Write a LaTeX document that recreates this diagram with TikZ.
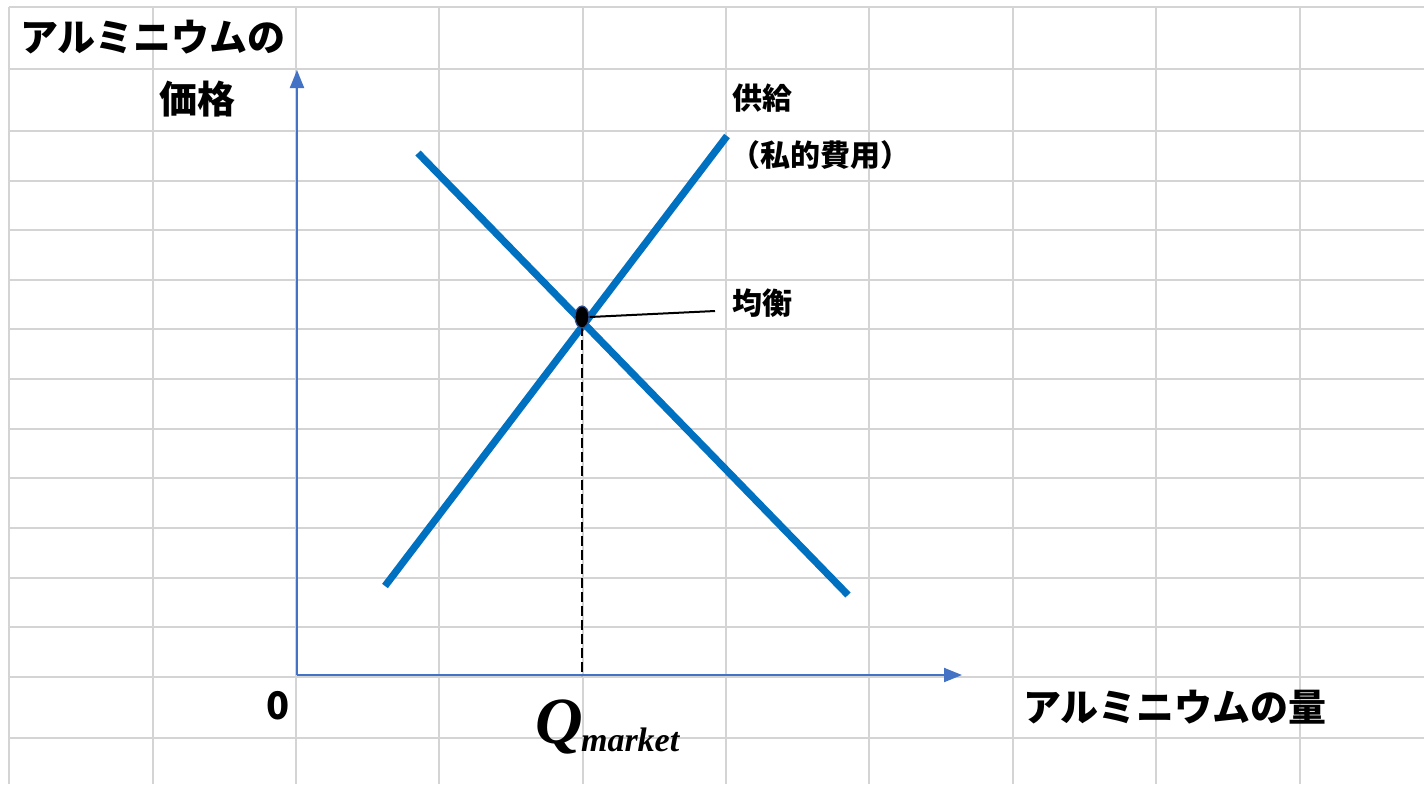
\documentclass[tikz,border=0pt]{standalone}
\usepackage{fontspec}
\usetikzlibrary{arrows.meta,shapes.geometric}
\newfontfamily\jpfont{Noto Sans CJK JP}
\newfontfamily\tnrfont{Liberation Serif}
\definecolor{gridgray}{HTML}{D4D4D4}
\definecolor{axisblue}{HTML}{4472C4}
\definecolor{curveblue}{HTML}{0070C0}
\definecolor{dotedge}{HTML}{2F528F}
\tikzset{
  gridline/.style={draw=gridgray, line width=1.2pt},
  axisline/.style={draw=axisblue, line width=1pt, -{Triangle[width=7pt,length=9pt]}},
  curveline/.style={draw=curveblue, line width=3.6pt},
  bigjp/.style={font=\jpfont\bfseries\fontsize{19pt}{22pt}\selectfont, inner sep=0pt},
  smalljp/.style={font=\jpfont\bfseries\fontsize{15pt}{18pt}\selectfont, inner sep=0pt},
  leader/.style={draw=black, line width=1pt},
  dropline/.style={draw=black, line width=0.8pt, dash pattern=on 5pt off 2pt},
}
\begin{document}
\begin{tikzpicture}[x=0.5pt,y=-0.5pt]
\fill[white] (0,0) rectangle (1424,784);
\useasboundingbox (0,0) rectangle (1424,784);
% grid
\foreach \gx in {9,153,296,439,583,726,869,1013,1156,1300}
  \draw[gridline] (\gx,7) -- (\gx,784);
\foreach \gy in {7,69,131,181,230,280,329,379,429,478,528,578,627,677,738}
  \draw[gridline] (9,\gy) -- (1424,\gy);
% axes
\coordinate (O) at (297,675);
\coordinate (ytop) at (297,70);
\coordinate (xend) at (962,675);
\draw[axisline] (O) -- (ytop);
\draw[axisline] (O) -- (xend);
% curves
\coordinate (s1) at (385,586);
\coordinate (s2) at (727,136);
\coordinate (d1) at (418,153);
\coordinate (d2) at (848,595);
\draw[curveline] (s1) -- (s2);
\draw[curveline] (d1) -- (d2);
% equilibrium
\coordinate (qbase) at (582,676);
\draw[dropline] (582,326) -- (qbase);
\node[ellipse, draw=dotedge, fill=black, line width=0.6pt, minimum width=7pt, minimum height=11pt, inner sep=0pt] (eq) at (582,317) {};
\node[smalljp] (eqlabel) at (762,303) {均衡};
\coordinate (leadend) at (715,311);
\draw[leader] (eq.east) -- (leadend);
% labels
\node[bigjp] (ylab1) at (153,37) {アルミニウムの};
\node[bigjp] (ylab2) at (197,99) {価格};
\node[smalljp] (slab1) at (762,98) {供給};
\node[smalljp] (slab2) at (820,155) {（私的費用）};
\node[font=\jpfont\fontseries{m}\fontsize{19pt}{22pt}\selectfont, inner sep=0pt] (zero) at (278,706) {\textbf{0}};
\node[bigjp] (xlab) at (1175,707) {アルミニウムの量};
\node[inner sep=0pt, anchor=base west] (qm) at (535,743) {\tnrfont\bfseries\itshape\fontsize{33pt}{35pt}\selectfont Q\kern-1pt\raisebox{-4pt}{\fontsize{17pt}{19pt}\selectfont market}};
\end{tikzpicture}
\end{document}
